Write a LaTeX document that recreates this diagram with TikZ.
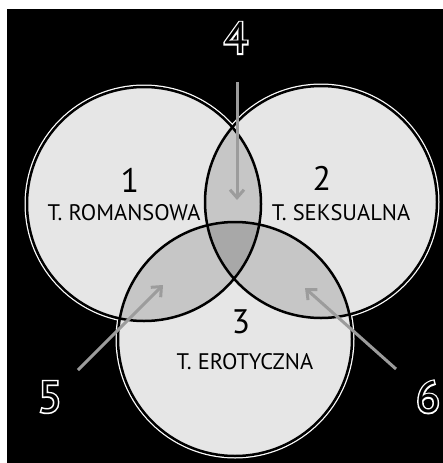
\documentclass[tikz,border=0pt]{standalone}
\usepackage{fontspec}
\setmainfont{PT Sans}
\newfontfamily\halofont[FakeBold=7]{PT Sans}
\usetikzlibrary{arrows.meta}
\definecolor{cfill}{HTML}{E6E6E6}
\definecolor{cpair}{HTML}{C6C6C6}
\definecolor{ctrip}{HTML}{A8A8A8}
\definecolor{carrow}{HTML}{9C9C9C}
\tikzset{
  lbl/.style={font=\fontsize{22.5}{22.5}\selectfont, text=black, inner sep=0pt},
  num/.style={font=\fontsize{34}{34}\selectfont, text=black, inner sep=0pt},
  outhalo/.style={font=\halofont\fontsize{44}{44}\selectfont, text=white, inner sep=0pt},
  outnum/.style={font=\fontsize{44}{44}\selectfont, text=black, inner sep=0pt},
  pointer/.style={draw=carrow, line width=3pt, -{Straight Barb[length=8pt,width=14pt,line width=3pt]}},
  ring/.style={draw=black, line width=2.5pt},
  halo/.style={draw=white, line width=5pt}
}
\begin{document}
\begin{tikzpicture}[x=1pt,y=-1pt]
\useasboundingbox (0,0) rectangle (443,463);
\fill[white] (0,0) rectangle (443,463);
\fill[black] (7,9) rectangle (443,463);
\coordinate (c1) at (144,204);
\coordinate (c2) at (321,202);
\coordinate (c3) at (235,339);
\def\ra{117}
\def\rb{116}
\def\rc{117}
% halos
\draw[halo] (c1) circle[radius=\ra];
\draw[halo] (c2) circle[radius=\rb];
\draw[halo] (c3) circle[radius=\rc];
% fills
\fill[cfill] (c1) circle[radius=\ra];
\fill[cfill] (c2) circle[radius=\rb];
\fill[cfill] (c3) circle[radius=\rc];
\begin{scope}
  \clip (c1) circle[radius=\ra];
  \fill[cpair] (c2) circle[radius=\rb];
  \fill[cpair] (c3) circle[radius=\rc];
\end{scope}
\begin{scope}
  \clip (c2) circle[radius=\rb];
  \fill[cpair] (c3) circle[radius=\rc];
\end{scope}
\begin{scope}
  \clip (c1) circle[radius=\ra];
  \clip (c2) circle[radius=\rb];
  \fill[ctrip] (c3) circle[radius=\rc];
\end{scope}
% outlines
\draw[ring] (c1) circle[radius=\ra];
\draw[ring] (c2) circle[radius=\rb];
\draw[ring] (c3) circle[radius=\rc];
% labels
\node[num] (n1) at (130,180) {1};
\node[lbl] (t1) at (124,213) {T. ROMANSOWA};
\node[num] (n2) at (322,178) {2};
\node[lbl] (t2) at (341,213) {T. SEKSUALNA};
\node[num] (n3) at (241,322) {3};
\node[lbl] (t3) at (245,362) {T. EROTYCZNA};
% outlined numbers
\node[outhalo] (h4) at (236,38) {4};
\node[outnum] (o4) at (236,38) {4};
\node[outhalo] (h5) at (50,397) {5};
\node[outnum] (o5) at (50,397) {5};
\node[outhalo] (h6) at (428,397) {6};
\node[outnum] (o6) at (428,397) {6};
% arrows
\coordinate (a4s) at (237,82);
\coordinate (a4e) at (237,200);
\coordinate (a5s) at (78,370);
\coordinate (a5e) at (163,285);
\coordinate (a6s) at (396,369);
\coordinate (a6e) at (305,288);
\draw[pointer] (a4s) -- (a4e);
\draw[pointer] (a5s) -- (a5e);
\draw[pointer] (a6s) -- (a6e);
\end{tikzpicture}
\end{document}
